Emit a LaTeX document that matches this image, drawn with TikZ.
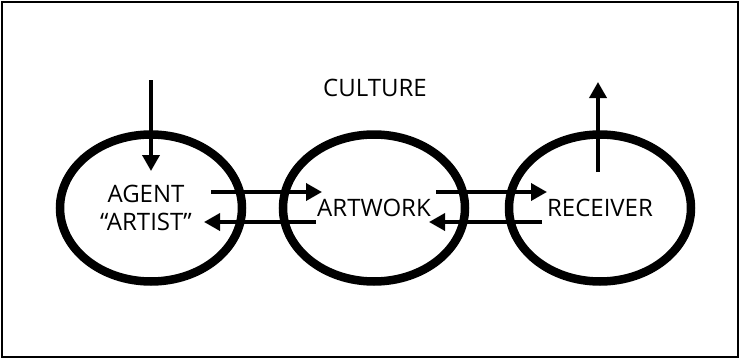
\documentclass[tikz,border=0pt]{standalone}
\usepackage{fontspec}
\setmainfont{Open Sans}
\usetikzlibrary{shapes.geometric,arrows.meta}
\begin{document}
\begin{tikzpicture}[x=1pt,y=1pt,
  circ/.style={ellipse,draw,line width=8.5pt,minimum width=182pt,minimum height=147pt,inner sep=0pt},
  lbl/.style={font=\fontsize{24}{28}\selectfont,inner sep=0pt,align=center},
  arr/.style={line width=3.6pt,-{Triangle[length=16pt,width=17pt]}}]
\useasboundingbox (0,0) rectangle (740,360);
\draw[line width=2pt] (2,3) rectangle (738,358);
\node[circ] (e1) at (151,152) {};
\node[circ] (e2) at (374,152) {};
\node[circ] (e3) at (600,152) {};
\node[lbl] (culture) at (375,272) {CULTURE};
\node[lbl] (agent) at (146,152) {AGENT\\“ARTIST”};
\node[lbl] (artwork) at (374,152) {ARTWORK};
\node[lbl] (receiver) at (600,152) {RECEIVER};
\coordinate (inTop) at (151,280);
\coordinate (inEnd) at (151,189);
\coordinate (outStart) at (598,188);
\coordinate (outTop) at (598,278);
\coordinate (a1s) at (211,168);
\coordinate (a1e) at (322,168);
\coordinate (b1s) at (316,138);
\coordinate (b1e) at (204,138);
\coordinate (a2s) at (436,168);
\coordinate (a2e) at (547,168);
\coordinate (b2s) at (542,138);
\coordinate (b2e) at (429,138);
\draw[arr] (inTop) -- (inEnd);
\draw[arr] (outStart) -- (outTop);
\draw[arr] (a1s) -- (a1e);
\draw[arr] (b1s) -- (b1e);
\draw[arr] (a2s) -- (a2e);
\draw[arr] (b2s) -- (b2e);
\end{tikzpicture}
\end{document}
